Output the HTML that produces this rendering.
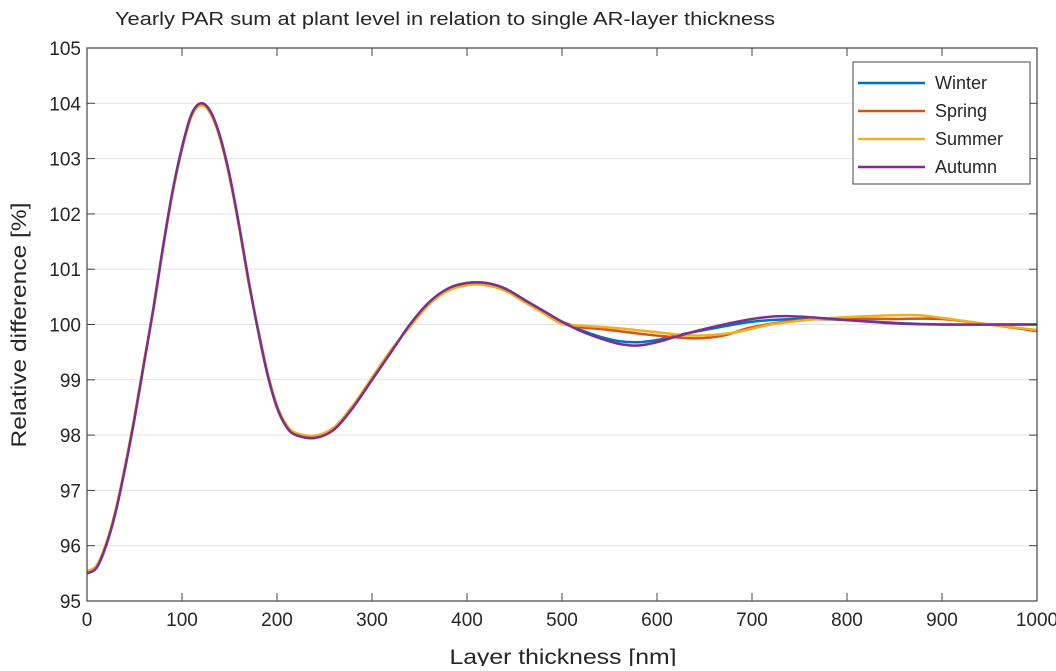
<!DOCTYPE html>
<html><head><meta charset="utf-8"><style>
body{margin:0;background:#fff;}
svg text{font-family:"Liberation Sans",sans-serif;fill:#262626;}
</style></head><body>
<svg id="chart" width="1056" height="666">
<text x="115" y="25" font-size="18" textLength="660" lengthAdjust="spacingAndGlyphs">Yearly PAR sum at plant level in relation to single AR-layer thickness</text>
<g id="grid"></g><g id="series"></g><g id="axes"></g>
<text x="563" y="664" font-size="21" text-anchor="middle" textLength="227" lengthAdjust="spacingAndGlyphs">Layer thickness [nm]</text>
<text transform="translate(26,325) rotate(-90)" font-size="21" text-anchor="middle" textLength="245" lengthAdjust="spacingAndGlyphs">Relative difference [%]</text>
<g id="legend"></g>
</svg>
<script>
const seriesNames=["Winter","Spring","Summer","Autumn"];
const colors=["#0072BD","#D95319","#EDB120","#7E2F8E"];
const xTicks=[0,100,200,300,400,500,600,700,800,900,1000];
const yTicks=[95,96,97,98,99,100,101,102,103,104,105];
const baseX=[0,10,20,30,40,50,60,70,80,90,100,110,120,130,140,150,160,170,180,190,200,210,220,240,260,280,300,320,340,360,380,400,420,440,460,480,500];
const baseY=[95.5,95.6,96.0,96.6,97.4,98.3,99.3,100.3,101.4,102.4,103.2,103.8,104.0,103.85,103.4,102.7,101.8,100.8,99.9,99.1,98.5,98.15,98.0,97.95,98.1,98.5,99.0,99.5,100.0,100.4,100.65,100.75,100.75,100.65,100.45,100.25,100.05];
const winterTailX=[520,540,560,580,600,620,650,700,750,800,850,900,950,1000];
const winterTailY=[99.9,99.78,99.7,99.68,99.72,99.8,99.9,100.05,100.1,100.08,100.03,100.0,100.0,100.0];
const springTailX=[520,540,560,600,640,670,700,750,800,850,900,950,1000];
const springTailY=[99.95,99.92,99.88,99.8,99.75,99.8,99.95,100.08,100.1,100.1,100.1,100.0,99.88];
const summerTailX=[520,560,600,640,680,720,770,820,870,900,950,1000];
const summerTailY=[99.98,99.93,99.86,99.8,99.85,100.0,100.1,100.15,100.17,100.12,100.0,99.9];
const autumnTailX=[520,540,560,580,600,620,650,700,740,800,850,900,1000];
const autumnTailY=[99.88,99.75,99.65,99.62,99.68,99.78,99.92,100.1,100.15,100.08,100.02,100.0,100.0];
const summerShift=0.04;
const L=87,R=1037,T=48,B=601;
const sx=v=>L+(v-0)/(1000-0)*(R-L);
const sy=v=>B-(v-95)/(105-95)*(B-T);
const NS="http://www.w3.org/2000/svg";
function mk(t,a,p){const e=document.createElementNS(NS,t);for(const k in a)e.setAttribute(k,a[k]);p.appendChild(e);return e;}
const grid=document.getElementById('grid'),axes=document.getElementById('axes'),ser=document.getElementById('series'),leg=document.getElementById('legend');
yTicks.forEach(v=>{
 const g=mk('line',{x1:L,x2:R,y1:sy(v),y2:sy(v),stroke:'#e3e3e3','stroke-width':1},grid);
 
 
 const t=mk('text',{x:L-6,y:sy(v)+7,'font-size':19,'text-anchor':'end'},axes);t.textContent=v;
 
 
 mk('line',{x1:L,x2:L+8,y1:sy(v),y2:sy(v),stroke:'#444'},axes);
 mk('line',{x1:R,x2:R-8,y1:sy(v),y2:sy(v),stroke:'#444'},axes);
});
xTicks.forEach(v=>{
 const t=mk('text',{x:sx(v),y:B+25,'font-size':19,'text-anchor':'middle'},axes);t.textContent=v;
 
 
 mk('line',{x1:sx(v),x2:sx(v),y1:B,y2:B-8,stroke:'#444'},axes);
 mk('line',{x1:sx(v),x2:sx(v),y1:T,y2:T+8,stroke:'#444'},axes);
});
const fr=mk('rect',{x:L,y:T,width:R-L,height:B-T,fill:'none',stroke:'#444','stroke-width':1.2},axes);


function path(xs,ys){
 const p=xs.map((x,i)=>[sx(x),sy(ys[i])]);let d='M'+p[0][0]+','+p[0][1];
 for(let i=0;i<p.length-1;i++){const p0=p[Math.max(0,i-1)],p1=p[i],p2=p[i+1],p3=p[Math.min(p.length-1,i+2)];
  d+=` C${p1[0]+(p2[0]-p0[0])/6},${p1[1]+(p2[1]-p0[1])/6} ${p2[0]-(p3[0]-p1[0])/6},${p2[1]-(p3[1]-p1[1])/6} ${p2[0]},${p2[1]}`;}
 return d;}
const tails=[[winterTailX,winterTailY],[springTailX,springTailY],[summerTailX,summerTailY],[autumnTailX,autumnTailY]];
tails.forEach((tl,i)=>{
 const by=i===2?baseY.map(v=>v+summerShift*(v<100?1:-1)):baseY;
 const e=mk('path',{d:path(baseX.concat(tl[0]),by.concat(tl[1])),fill:'none',stroke:colors[i],'stroke-width':2.5},ser);
 
 
});
mk('rect',{x:853,y:62,width:177,height:122,fill:'#fff',stroke:'#444'},leg);
seriesNames.forEach((n,i)=>{
 const y=83+i*28;
 mk('line',{x1:858,x2:925,y1:y,y2:y,stroke:colors[i],'stroke-width':2.5},leg);
 const t=mk('text',{x:935,y:y+6,'font-size':18},leg);t.textContent=n;
 
 
});
</script>
</body></html>
